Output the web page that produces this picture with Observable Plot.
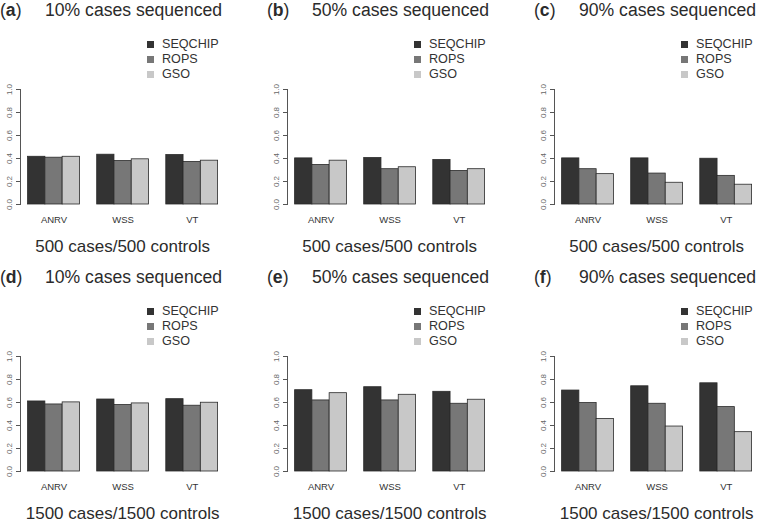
<!DOCTYPE html>
<html><head><meta charset="utf-8">
<script src="https://cdn.jsdelivr.net/npm/d3@7"></script>
<script src="https://cdn.jsdelivr.net/npm/@observablehq/plot@0.6"></script>
<style>
html,body{margin:0;padding:0;background:#fff;}
#root{position:relative;width:759px;height:523px;overflow:hidden;font-family:"Liberation Sans",Arial,sans-serif;}
.panel{position:absolute;width:267px;height:267px;}
.panel svg{position:absolute;left:0;top:0;overflow:visible;}
.tlabel{position:absolute;font-size:17.6px;color:#2b2b2b;white-space:nowrap;line-height:1;}
.tlabel b{font-weight:bold;}
.sub{position:absolute;font-size:17px;color:#2b2b2b;white-space:nowrap;line-height:1;transform:translateX(-50%);}
.legend{position:absolute;font-size:12.6px;color:#333;line-height:15.2px;}
.legend div{white-space:nowrap;}
.legend span.sw{display:inline-block;width:7px;height:7px;margin-right:8px;vertical-align:0px;}
</style></head><body><div id="root"></div>
<script>
// ---- data ----
const methods = ["SEQCHIP", "ROPS", "GSO"];
const tests = ["ANRV", "WSS", "VT"];
const methodColors = ["#333333", "#777777", "#c8c8c8"];
const yTicks = [0, 0.2, 0.4, 0.6, 0.8, 1.0];
const panelLetters = ["a", "b", "c", "d", "e", "f"];
const sequencedLabels = ["10% cases sequenced", "50% cases sequenced", "90% cases sequenced",
                         "10% cases sequenced", "50% cases sequenced", "90% cases sequenced"];
const sampleLabels = ["500 cases/500 controls", "500 cases/500 controls", "500 cases/500 controls",
                      "1500 cases/1500 controls", "1500 cases/1500 controls", "1500 cases/1500 controls"];
// values: rows = tests (ANRV, WSS, VT), columns = methods (SEQCHIP, ROPS, GSO)
const panelA = [[0.415, 0.407, 0.415], [0.433, 0.378, 0.393], [0.430, 0.370, 0.381]];
const panelB = [[0.401, 0.344, 0.381], [0.404, 0.307, 0.324], [0.387, 0.292, 0.307]];
const panelC = [[0.401, 0.307, 0.264], [0.401, 0.269, 0.189], [0.398, 0.249, 0.172]];
const panelD = [[0.609, 0.583, 0.601], [0.626, 0.578, 0.592], [0.629, 0.572, 0.598]];
const panelE = [[0.707, 0.618, 0.681], [0.733, 0.618, 0.667], [0.693, 0.589, 0.624]];
const panelF = [[0.704, 0.595, 0.457], [0.741, 0.589, 0.391], [0.767, 0.560, 0.342]];
const panelValues = [panelA, panelB, panelC, panelD, panelE, panelF];

// ---- layout ----
const colX = [-20, 247, 514];
const rowY = [0, 267];
const W = 267, H = 267;
const mL = 40, mR = 21.8, mT = 89, mB = 63;

const root = document.getElementById("root");

panelValues.forEach((vals, p) => {
  const rows = tests.flatMap((t, i) => methods.map((m, j) => ({test: t, method: m, value: vals[i][j]})));
  const panel = document.createElement("div");
  panel.className = "panel";
  panel.style.left = colX[p % 3] + "px";
  panel.style.top = rowY[Math.floor(p / 3)] + "px";

  const chart = Plot.plot({
    width: W, height: H,
    marginLeft: mL, marginRight: mR, marginTop: mT, marginBottom: mB,
    style: {fontFamily: "'Liberation Sans', Arial, sans-serif", background: "transparent"},
    fx: {domain: tests, paddingInner: 0.03, paddingOuter: 0, round: false, label: null},
    x: {domain: methods, paddingInner: 0, paddingOuter: 0.44, round: false, axis: null},
    y: {domain: [0, 1], label: null},
    color: {domain: methods, range: methodColors},
    marks: [
      Plot.barY(rows, {fx: "test", x: "method", y: "value", fill: "method", stroke: "#2a2a2a", strokeWidth: 0.8}),
      Plot.frame({anchor: "left", facetAnchor: "left", stroke: "#555"}),
      Plot.axisY({ticks: yTicks, tickFormat: d => d.toFixed(1), tickRotate: -90, tickSize: 4, tickPadding: 5,
                  fontSize: 8, stroke: "#555", fill: "#666", label: null}),
      Plot.axisFx({anchor: "bottom", tickSize: 0, tickPadding: 12, fontSize: 9.5, fill: "#333", label: null})
    ]
  });
  panel.appendChild(chart);

  const t1 = document.createElement("div");
  t1.className = "tlabel";
  t1.style.left = "20px"; t1.style.top = "2px";
  t1.innerHTML = "(<b>" + panelLetters[p] + "</b>)";
  panel.appendChild(t1);

  const t2 = document.createElement("div");
  t2.className = "tlabel";
  t2.style.left = "65px"; t2.style.top = "2px";
  t2.textContent = sequencedLabels[p];
  panel.appendChild(t2);

  const lg = document.createElement("div");
  lg.className = "legend";
  lg.style.left = "167px"; lg.style.top = "37px";
  methods.forEach((m, j) => {
    const r = document.createElement("div");
    const sw = document.createElement("span");
    sw.className = "sw"; sw.style.background = methodColors[j];
    r.appendChild(sw);
    r.appendChild(document.createTextNode(m));
    lg.appendChild(r);
  });
  panel.appendChild(lg);

  const sb = document.createElement("div");
  sb.className = "sub";
  sb.style.left = (mL + (W - mL - mR) / 2) + "px"; sb.style.top = "238px";
  sb.textContent = sampleLabels[p];
  panel.appendChild(sb);

  root.appendChild(panel);
});
</script>
</body></html>
